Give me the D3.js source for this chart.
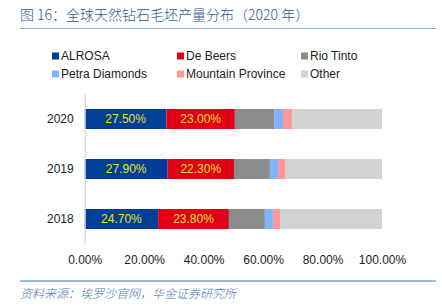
<!DOCTYPE html>
<html>
<head>
<meta charset="utf-8">
<script src="https://cdn.jsdelivr.net/npm/d3@7"></script>
<style>
  body { margin: 0; background: #fff; }
  svg { display: block; font-family: "Liberation Sans", Arial, sans-serif; }
</style>
</head>
<body>
<svg class="chart-svg" width="442" height="307"></svg>
<script>
// data
const years = ['2020', '2019', '2018']
const companies = ['ALROSA', 'De Beers', 'Rio Tinto', 'Petra Diamonds', 'Mountain Province', 'Other']
const alrosa = [27.5, 27.9, 24.7]
const deBeers = [23.0, 22.3, 23.8]
const rioTinto = [13.2, 12.1, 12.1]
const petra = [3.0, 2.7, 2.7]
const mountainProvince = [3.0, 2.6, 2.4]
const other = [30.3, 32.4, 34.3]
const xTicks = [0, 20, 40, 60, 80, 100]

const colors = ['#003f98', '#e00016', '#8c8c8c', '#7fb2ff', '#ff9999', '#d3d3d3']
const seriesVals = [alrosa, deBeers, rioTinto, petra, mountainProvince, other]

const rows = years.map(function (y, i) {
  const r = { year: y }
  companies.forEach(function (c, k) { r[c] = seriesVals[k][i] })
  return r
})

const svg = d3.select('.chart-svg')

// title
svg.append('text')
  .attr('x', 20).attr('y', 20)
  .attr('font-family', '"Noto Sans CJK SC", sans-serif')
  .attr('font-size', 14)
  .attr('font-weight', 300)
  .attr('fill', '#2a5a98')
  .text('图 16：全球天然钻石毛坯产量分布（2020 年）')

svg.append('line')
  .attr('x1', 20).attr('x2', 436).attr('y1', 28.5).attr('y2', 28.5)
  .attr('stroke', '#7fb0e0').attr('stroke-width', 1.2)

// scales
const xScale = d3.scaleLinear().domain([0, 100]).range([84.7, 382])
const yScale = d3.scaleBand().domain(years).range([94, 244]).paddingInner(0.6).paddingOuter(0.3)

const stack = d3.stack().keys(companies)(rows)

svg.append('g')
  .selectAll('g')
  .data(stack)
  .join('g')
  .attr('fill', function (d, i) { return colors[i] })
  .selectAll('rect')
  .data(function (d) { return d })
  .join('rect')
  .attr('x', function (d) { return xScale(d[0]) })
  .attr('width', function (d) { return xScale(d[1]) - xScale(d[0]) })
  .attr('y', function (d) { return yScale(d.data.year) })
  .attr('height', yScale.bandwidth())

// value labels on first two series
stack.slice(0, 2).forEach(function (s) {
  svg.append('g')
    .selectAll('text')
    .data(s)
    .join('text')
    .attr('x', function (d) { return (xScale(d[0]) + xScale(d[1])) / 2 })
    .attr('y', function (d) { return yScale(d.data.year) + yScale.bandwidth() / 2 })
    .attr('dy', '0.36em')
    .attr('text-anchor', 'middle')
    .attr('font-size', 12)
    .attr('fill', '#f0e020')
    .text(function (d) { return (d[1] - d[0]).toFixed(2) + '%' })
})

// y axis
const yAxis = svg.append('g')
  .attr('transform', 'translate(84.7,0)')
  .call(d3.axisLeft(yScale).tickSize(0).tickPadding(11))
yAxis.select('.domain').attr('stroke', '#d9d9d9').attr('stroke-width', 1.2)
yAxis.selectAll('text').attr('font-size', 12).attr('fill', '#222')
  .attr('font-family', '"Liberation Sans", Arial, sans-serif')

// x axis (labels only)
const xAxis = svg.append('g')
  .attr('transform', 'translate(0,250)')
  .call(d3.axisBottom(xScale).tickValues(xTicks).tickSize(0).tickPadding(5)
    .tickFormat(function (d) { return d.toFixed(2) + '%' }))
xAxis.select('.domain').remove()
xAxis.selectAll('text').attr('font-size', 12).attr('fill', '#222')
  .attr('font-family', '"Liberation Sans", Arial, sans-serif')

// legend
const legendX = [52, 177, 301]
const legendY = [56, 74]
const legend = svg.append('g')
companies.forEach(function (c, i) {
  const lx = legendX[i % 3]
  const ly = legendY[Math.floor(i / 3)]
  legend.append('rect')
    .attr('x', lx).attr('y', ly - 3.5).attr('width', 7).attr('height', 7)
    .attr('fill', colors[i])
  legend.append('text')
    .attr('x', lx + 9).attr('y', ly).attr('dy', '0.35em')
    .attr('font-size', 12).attr('fill', '#222')
    .text(c)
})

// footer
svg.append('line')
  .attr('x1', 20).attr('x2', 436).attr('y1', 281).attr('y2', 281)
  .attr('stroke', '#2e75b6').attr('stroke-width', 1.2)

svg.append('text')
  .attr('x', 20).attr('y', 298)
  .attr('font-family', '"Noto Sans CJK SC", sans-serif')
  .attr('font-size', 12)
  .attr('font-weight', 300)
  .attr('font-style', 'italic')
  .attr('fill', '#4a78b8')
  .text('资料来源：埃罗沙官网，华金证券研究所')
</script>
</body>
</html>
